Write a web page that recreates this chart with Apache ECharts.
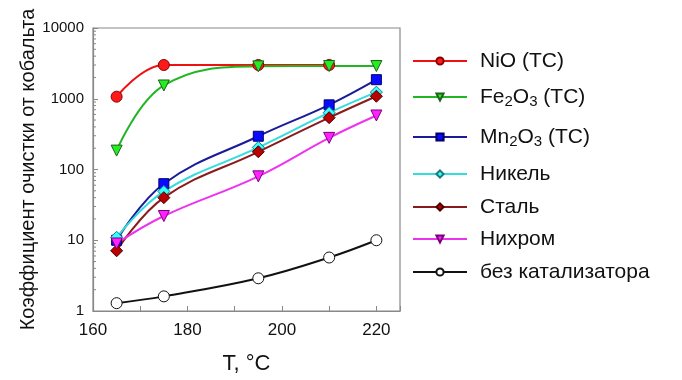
<!DOCTYPE html>
<html>
<head>
<meta charset="utf-8">
<script src="https://cdn.jsdelivr.net/npm/echarts@6/dist/echarts.min.js"></script>
<style>
html,body{margin:0;padding:0;background:#fff;}
#chart{width:682px;height:380px;}
</style>
</head>
<body>
<div id="chart"></div>
<script>
// ---- data ----
const temps = [165, 175, 195, 210, 220];
const nio = [1070, 3000, 3000, 3000, null];
const fe2o3 = [185, 1540, 2870, 2900, 2900];
const mn2o3 = [10, 63, 295, 820, 1860];
const nickel = [11, 49, 205, 635, 1240];
const steel = [7.1, 40, 178, 540, 1085];
const nichrome = [9, 22, 80, 280, 580];
const noCat = [1.29, 1.61, 2.9, 5.7, 10];
const seriesNames = ['NiO (ТС)', 'Fe2O3 (ТС)', 'Mn2O3 (ТС)', 'Никель', 'Сталь', 'Нихром', 'без катализатора'];
const xTickLabels = [160, 180, 200, 220];
const yTickLabels = [1, 10, 100, 1000, 10000];

// ---- styling / layout ----
const FONT = 'Liberation Sans, Arial, sans-serif';
const styles = [
  {line: '#ee1111', fill: '#ff1a1a', border: '#8a0000', symbol: 'circle', size: 11, rot: 0},
  {line: '#22b522', fill: '#22ee22', border: '#1f5f1f', symbol: 'triangle', size: 11, rot: 180},
  {line: '#1a1a9a', fill: '#0a0aff', border: '#000066', symbol: 'rect', size: 10, rot: 0},
  {line: '#33dddd', fill: '#33ffff', border: '#1a7a7a', symbol: 'diamond', size: 12, rot: 0},
  {line: '#8b1a1a', fill: '#bb0000', border: '#4a0000', symbol: 'diamond', size: 12, rot: 0},
  {line: '#ee33ee', fill: '#ff22ff', border: '#7a007a', symbol: 'triangle', size: 11, rot: 180},
  {line: '#111111', fill: '#ffffff', border: '#111111', symbol: 'circle', size: 11, rot: 0}
];
const values = [nio, fe2o3, mn2o3, nickel, steel, nichrome, noCat];
const legendCenters = [61, 97, 137, 174, 207, 239, 272];
const legendText = {
  'NiO (ТС)': 'NiO (ТС)',
  'Fe2O3 (ТС)': 'Fe{sub|2}O{sub|3} (ТС)',
  'Mn2O3 (ТС)': 'Mn{sub|2}O{sub|3} (ТС)',
  'Никель': 'Никель',
  'Сталь': 'Сталь',
  'Нихром': 'Нихром',
  'без катализатора': 'без катализатора'
};

const series = values.map((vals, i) => ({
  name: seriesNames[i],
  type: 'line',
  smooth: 0.4,
  connectNulls: false,
  data: temps.map((t, j) => vals[j] == null ? null : [t, vals[j]]).filter(d => d),
  symbol: styles[i].symbol,
  symbolSize: styles[i].size,
  symbolRotate: styles[i].rot,
  lineStyle: {color: styles[i].line, width: 2},
  itemStyle: {color: styles[i].fill, borderColor: styles[i].border, borderWidth: 1},
  z: 3
}));

// log minor ticks on y axis, positioned via the axis scale
const minor = [];
for (let d = 1; d < 10000; d *= 10) for (let k = 2; k <= 9; k++) minor.push([160, d * k]);
series.push({
  type: 'custom',
  silent: true,
  clip: false,
  data: minor,
  z: 1,
  renderItem: (params, api) => {
    const p = api.coord([api.value(0), api.value(1)]);
    return {type: 'line', shape: {x1: p[0], y1: p[1], x2: p[0] + 3, y2: p[1]}, style: {stroke: '#888', lineWidth: 1}};
  }
});

const legends = seriesNames.map((n, i) => ({
  data: [n],
  orient: 'vertical',
  left: 412,
  top: legendCenters[i] - 12,
  padding: 0,
  itemWidth: 54,
  itemHeight: 9,
  selectedMode: false,
  formatter: name => legendText[name],
  textStyle: {
    fontFamily: FONT, fontSize: 21, color: '#111', lineHeight: 24, padding: [0, 0, 0, 8],
    rich: {sub: {fontFamily: FONT, fontSize: 15, color: '#111', lineHeight: 15, verticalAlign: 'bottom', padding: [8, 0, 0, 0]}}
  }
}));

const chart = echarts.init(document.getElementById('chart'), null, {renderer: 'canvas'});
chart.setOption({
  animation: false,
  backgroundColor: '#fff',
  grid: {left: 93, right: 282, top: 28, bottom: 67, show: true, borderColor: '#888', borderWidth: 1.2},
  legend: legends,
  xAxis: {
    type: 'value', min: 160, max: 225, interval: 10,
    name: 'T, °C', nameLocation: 'middle', nameGap: 42,
    nameTextStyle: {fontFamily: FONT, fontSize: 22, color: '#111'},
    axisLine: {lineStyle: {color: '#888', width: 1.2}},
    axisTick: {inside: true, length: 5, lineStyle: {color: '#888'}},
    axisLabel: {
      fontFamily: FONT, fontSize: 17, color: '#111', margin: 11,
      formatter: v => xTickLabels.indexOf(v) >= 0 ? String(v) : ''
    },
    splitLine: {show: false}
  },
  yAxis: {
    type: 'log', logBase: 10, min: 1, max: 10000,
    name: 'Коэффициент очистки от кобальта', nameLocation: 'middle', nameGap: 55,
    nameTextStyle: {fontFamily: FONT, fontSize: 20, color: '#111'},
    axisLine: {lineStyle: {color: '#888', width: 1.2}},
    axisTick: {inside: true, length: 5, lineStyle: {color: '#888'}},
    axisLabel: {
      fontFamily: FONT, fontSize: 15, color: '#111', margin: 9,
      formatter: v => yTickLabels.indexOf(Math.round(v)) >= 0 ? String(Math.round(v)) : ''
    },
    splitLine: {show: false}
  },
  series: series
});
</script>
</body>
</html>
